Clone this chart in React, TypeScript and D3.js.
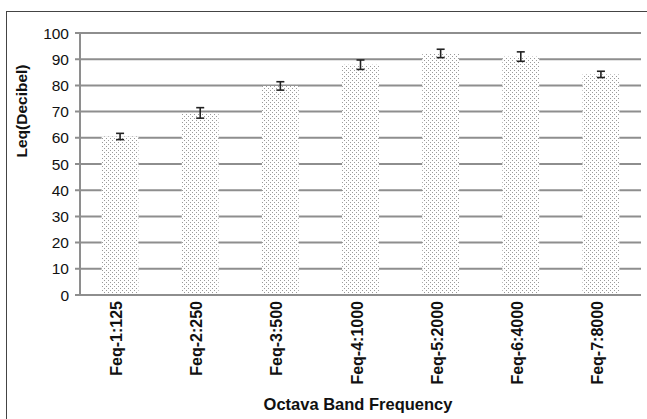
import React from "react";
import * as d3 from "d3";

const categories = ["Feq-1:125", "Feq-2:250", "Feq-3:500", "Feq-4:1000", "Feq-5:2000", "Feq-6:4000", "Feq-7:8000"];
const values = [60.5, 69.5, 79.8, 87.9, 92.2, 91.0, 84.2];
const errors = [1.2, 2.0, 1.6, 1.8, 1.6, 1.8, 1.2];
const yTicks = [0, 10, 20, 30, 40, 50, 60, 70, 80, 90, 100];

const W = 647;
const H = 419;
const left = 80;
const right = 641;
const top = 33;
const bottom = 295;
const gridColor = "#8e8e8e";
const font = "'Liberation Sans', Arial, sans-serif";

export default function App() {
  const x = d3.scaleBand<string>().domain(categories).range([left, right]).paddingInner(0.54).paddingOuter(0.27);
  const y = d3.scaleLinear().domain([0, 100]).range([bottom, top]);

  return (
    <svg width={W} height={H} style={{ position: "absolute", left: 0, top: 0, background: "#fff" }} fontFamily={font}>
      <defs>
        <pattern id="dots" width={4} height={4} patternUnits="userSpaceOnUse">
          <rect width={4} height={4} fill="#fff" />
          <rect x={0} y={0} width={1} height={1} fill="#9a9a9a" />
          <rect x={2} y={2} width={1} height={1} fill="#9a9a9a" />
        </pattern>
      </defs>
      <rect x={6.5} y={11.5} width={700} height={500} fill="none" stroke="#444" strokeWidth={1} />
      {yTicks.map((t) => (
        <g key={t}>
          {t > 0 && <line x1={75} x2={right} y1={y(t)} y2={y(t)} stroke={gridColor} strokeWidth={2} />}
          <text x={69} y={y(t)} dy="0.36em" textAnchor="end" fontSize={15.5} fill="#111">
            {t}
          </text>
        </g>
      ))}
      {categories.map((c, i) => (
        <rect key={c} x={x(c)!} y={y(values[i])} width={x.bandwidth()} height={y(0) - y(values[i])} fill="url(#dots)" />
      ))}
      <line x1={left} x2={left} y1={top} y2={bottom} stroke={gridColor} strokeWidth={2} />
      <line x1={75} x2={right} y1={bottom} y2={bottom} stroke={gridColor} strokeWidth={2} />
      {categories.map((c, i) => {
        const cx = x(c)! + x.bandwidth() / 2;
        const hi = y(values[i] + errors[i]);
        const lo = y(values[i] - errors[i]);
        return (
          <g key={c} stroke="#222" strokeWidth={1.6}>
            <line x1={cx} x2={cx} y1={hi} y2={lo} />
            <line x1={cx - 4} x2={cx + 4} y1={hi} y2={hi} />
            <line x1={cx - 4} x2={cx + 4} y1={lo} y2={lo} />
          </g>
        );
      })}
      {categories.map((c) => {
        const cx = x(c)! + x.bandwidth() / 2;
        return (
          <text key={c} transform={`translate(${cx + 2},301) rotate(-90)`} textAnchor="end" fontSize={16} fontWeight="bold" fill="#111">
            {c}
          </text>
        );
      })}
      <text transform="translate(27,111) rotate(-90)" textAnchor="middle" fontSize={15.5} fontWeight="bold" fill="#111">
        Leq(Decibel)
      </text>
      <text x={358} y={410} textAnchor="middle" fontSize={16.5} fontWeight="bold" fill="#111">
        Octava Band Frequency
      </text>
    </svg>
  );
}
